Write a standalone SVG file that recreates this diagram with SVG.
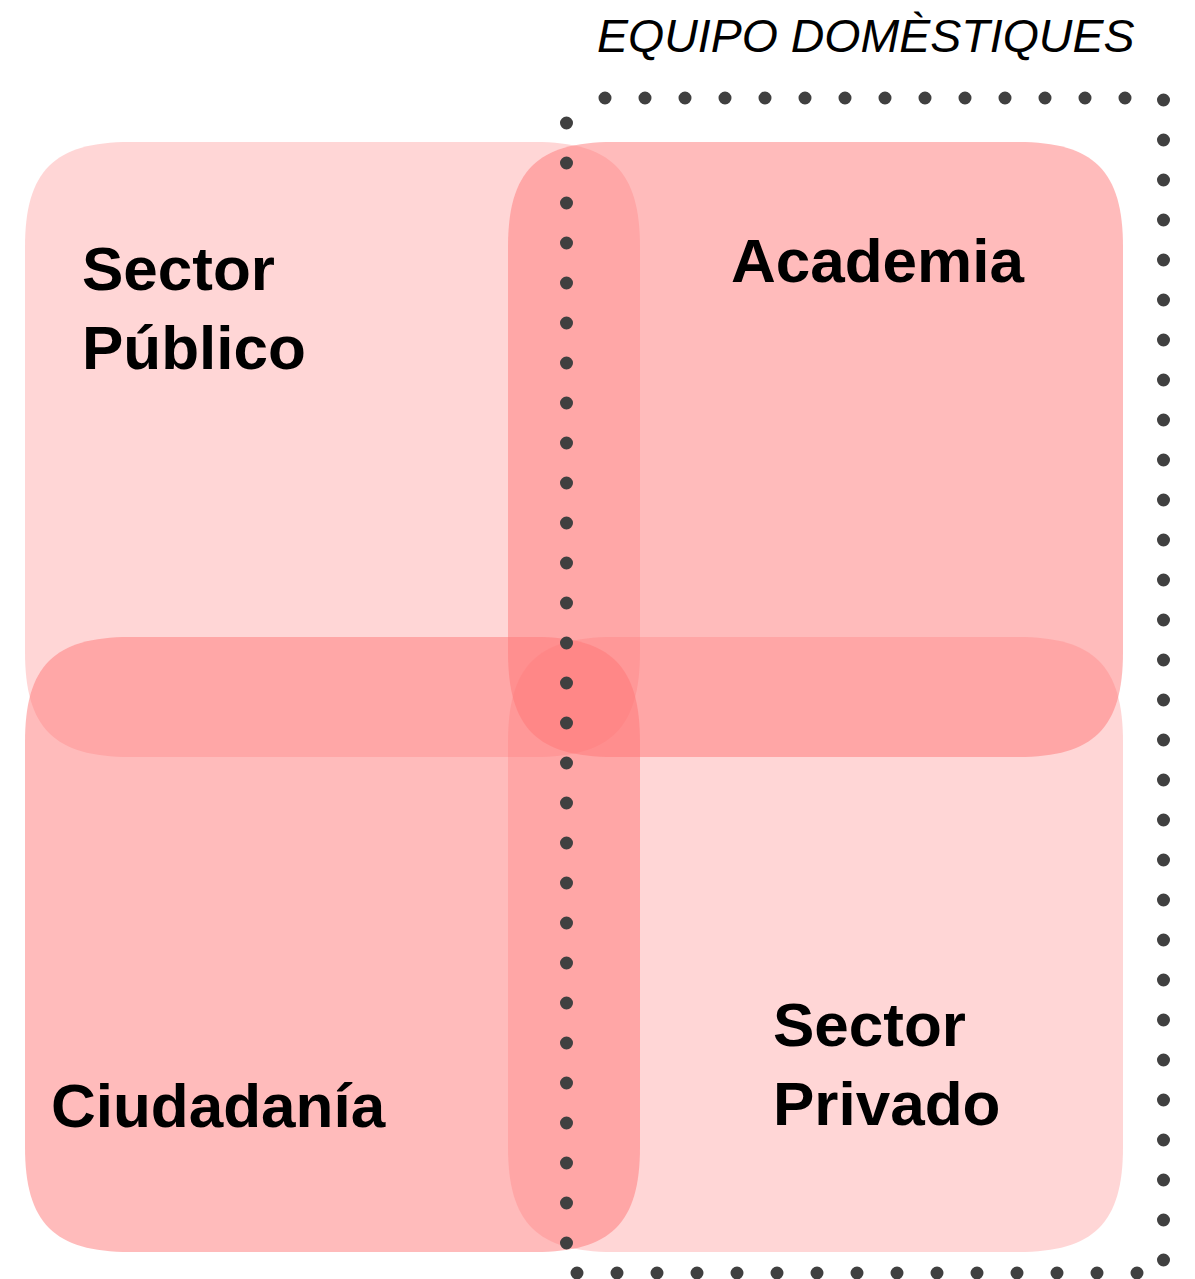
<svg xmlns="http://www.w3.org/2000/svg" xmlns:xlink="http://www.w3.org/1999/xlink" width="1195" height="1279" viewBox="0 0 1195 1279">
<style>
.light{fill:#FF7878;fill-opacity:0.3}
.mid{fill:#FF7878;fill-opacity:0.5}
.lbl{font-family:"Liberation Sans",Arial,sans-serif;font-weight:bold;font-size:62px;fill:#000}
.title{font-family:"Liberation Sans",Arial,sans-serif;font-style:italic;font-size:46.5px;fill:#000}
.dots{fill:none;stroke:#404040;stroke-width:13;stroke-linecap:round;stroke-dasharray:0 40}
</style>
<defs>
<path id="sq" d="M105,0 H510 C586,0 615,29 615,105 V510 C615,586 586,615 510,615 H105 C29,615 0,586 0,510 V105 C0,29 29,0 105,0 Z"/>
</defs>
<rect width="1195" height="1279" fill="#fff"/>
<g id="node-sector-publico">
<use xlink:href="#sq" href="#sq" class="light" transform="translate(25,142)"/>
<text class="lbl" x="82" y="290">Sector</text>
<text class="lbl" x="82" y="369">Público</text>
</g>
<g id="node-academia">
<use xlink:href="#sq" href="#sq" class="mid" transform="translate(508,142)"/>
<text class="lbl" x="731" y="282">Academia</text>
</g>
<g id="node-ciudadania">
<use xlink:href="#sq" href="#sq" class="mid" transform="translate(25,637)"/>
<text class="lbl" x="51" y="1127">Ciudadanía</text>
</g>
<g id="node-sector-privado">
<use xlink:href="#sq" href="#sq" class="light" transform="translate(508,637)"/>
<text class="lbl" x="773" y="1046">Sector</text>
<text class="lbl" x="773" y="1125">Privado</text>
</g>
<g id="equipo-domestiques">
<text class="title" x="597" y="52">EQUIPO DOMÈSTIQUES</text>
<line class="dots" x1="566.5" y1="123" x2="566.5" y2="1243.5"/>
<line class="dots" x1="605" y1="98" x2="1125.5" y2="98"/>
<line class="dots" x1="1163.5" y1="100" x2="1163.5" y2="1260.5"/>
<line class="dots" x1="577" y1="1273" x2="1137.5" y2="1273"/>
</g>
</svg>
